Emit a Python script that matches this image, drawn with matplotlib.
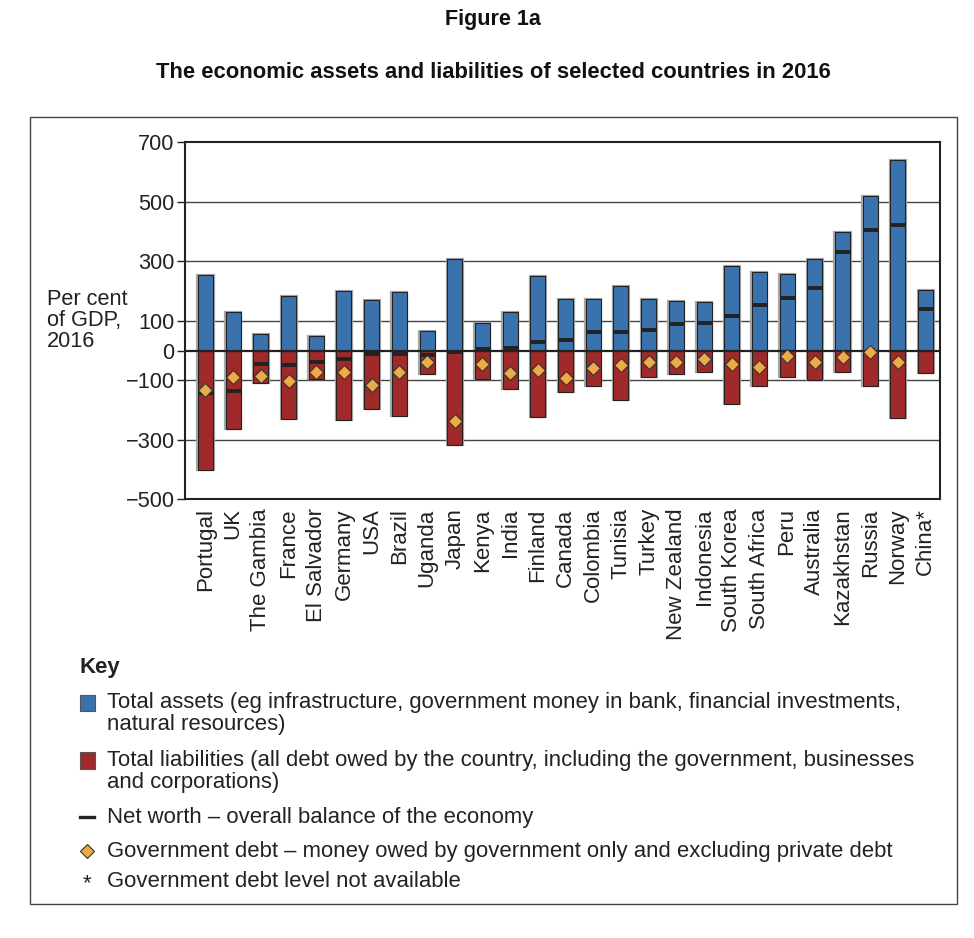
import matplotlib
matplotlib.use("Agg")
import matplotlib.pyplot as plt
from matplotlib import font_manager
from matplotlib.patches import Rectangle
from matplotlib.lines import Line2D

# data (per cent of GDP, 2016)
countries = ["Portugal", "UK", "The Gambia", "France", "El Salvador", "Germany",
             "USA", "Brazil", "Uganda", "Japan", "Kenya", "India", "Finland",
             "Canada", "Colombia", "Tunisia", "Turkey", "New Zealand", "Indonesia",
             "South Korea", "South Africa", "Peru", "Australia", "Kazakhstan",
             "Russia", "Norway", "China*"]
assets = [255, 131, 55, 182, 49, 200, 170, 197, 67, 308, 92, 130, 249,
          173, 173, 217, 173, 167, 163, 284, 264, 257, 309, 397, 520, 642, 203]
liabilities = [-402, -263, -110, -229, -94, -234, -196, -219, -80, -318, -94, -130, -224,
               -140, -120, -165, -89, -80, -73, -178, -119, -88, -100, -71, -119, -227, -76]
net_worth = [-142, -135, -46, -48, -37, -27, -12, -13, -16, -6, 6, 8, 28,
             34, 62, 62, 70, 90, 94, 115, 154, 175, 210, 331, 404, 421, 140]
gov_debt = [-133, -90, -85, -101, -73, -73, -115, -72, -38, -237, -46, -75, -65,
            -91, -57, -49, -38, -39, -29, -45, -54, -20, -38, -22, -6, -40, None]
yticks = [700, 500, 300, 100, 0, -100, -300, -500]

BLUE = "#3a72ad"
RED = "#a02a2a"
GOLD = "#eeaa48"
DARK = "#222222"


def pick_font(names):
    for n in names:
        try:
            font_manager.findfont(n, fallback_to_default=False)
            return n
        except Exception:
            pass
    return "DejaVu Sans"


body_font = pick_font(["Liberation Sans", "Arial", "DejaVu Sans"])
plt.rcParams["font.family"] = body_font

W, H = 974, 938
fig = plt.figure(figsize=(W / 100, H / 100), dpi=100)


def fx(x):
    return x / W


def fy(y):
    return 1 - y / H


# titles
fig.text(fx(493), fy(20), "Figure 1a", ha="center", va="center",
         fontsize=15.5, fontweight="bold", color="#111111")
fig.text(fx(493), fy(73), "The economic assets and liabilities of selected countries in 2016",
         ha="center", va="center", fontsize=15.8, fontweight="bold", color="#111111")

# outer frame
fig.patches.append(Rectangle((fx(30), fy(904)), fx(957) - fx(30), fy(117) - fy(904),
                             transform=fig.transFigure, fill=False,
                             edgecolor="#444444", linewidth=1.0))

ax = fig.add_axes([fx(185), fy(499.3), fx(940) - fx(185), fy(142.3) - fy(499.3)])
x = list(range(len(countries)))
bw = 0.54

# grid behind bars
for t in yticks[1:-1]:
    if t != 0:
        ax.axhline(t, color="#444444", linewidth=1.0, zorder=0)

# shadow then bars
ax.bar(x, assets, width=bw + 0.04, color="none", edgecolor="#a8a8a8", linewidth=1.6, zorder=1)
ax.bar(x, liabilities, width=bw + 0.04, color="none", edgecolor="#a8a8a8", linewidth=1.6, zorder=1)
ax.bar(x, assets, width=bw, color=BLUE, edgecolor=DARK, linewidth=0.8, zorder=2)
ax.bar(x, liabilities, width=bw, color=RED, edgecolor=DARK, linewidth=0.8, zorder=2)

ax.axhline(0, color=DARK, linewidth=1.6, zorder=3)

ax.hlines(net_worth, [i - bw / 2 for i in x], [i + bw / 2 for i in x],
          color=DARK, linewidth=2.8, zorder=4)

gx = [i for i, v in zip(x, gov_debt) if v is not None]
gv = [v for v in gov_debt if v is not None]
ax.plot(gx, gv, linestyle="none", marker="D", markersize=7,
        markerfacecolor=GOLD, markeredgecolor="#333333", markeredgewidth=0.8, zorder=5)

ax.set_xlim(-0.74, 26.52)
ax.set_ylim(-500, 700)
ax.set_yticks(yticks)
ax.set_yticklabels([f"{t}".replace("-", "\u2212") for t in yticks])
ax.set_xticks(x)
ax.set_xticklabels(countries, rotation=90, va="top", ha="center")
ax.tick_params(axis="y", direction="out", length=6, width=1.0, pad=1.5,
               labelsize=15.7, colors=DARK)
ax.tick_params(axis="x", length=0, pad=6.5, labelsize=16, colors=DARK)
for s in ax.spines.values():
    s.set_color(DARK)
    s.set_linewidth(1.5)

fig.text(fx(47), fy(320.7), "Per cent\nof GDP,\n2016", ha="left", va="center",
         fontsize=15.7, linespacing=1.0, color=DARK)

# key
ks = 15.9
tx = fx(106.7)
fig.text(fx(79.5), fy(667), "Key", ha="left", va="center", fontsize=ks,
         fontweight="bold", color=DARK)

fig.patches.append(Rectangle((fx(79.5), fy(710.5)), fx(15), 16 / H,
                             transform=fig.transFigure, facecolor=BLUE,
                             edgecolor="#555555", linewidth=0.8))
fig.text(tx, fy(702.5), "Total assets (eg infrastructure, government money in bank, financial investments,",
         ha="left", va="center", fontsize=ks, color=DARK)
fig.text(tx, fy(724.5), "natural resources)", ha="left", va="center", fontsize=ks, color=DARK)

fig.patches.append(Rectangle((fx(79.5), fy(768.5)), fx(15), 17 / H,
                             transform=fig.transFigure, facecolor=RED,
                             edgecolor="#555555", linewidth=0.8))
fig.text(tx, fy(760), "Total liabilities (all debt owed by the country, including the government, businesses",
         ha="left", va="center", fontsize=ks, color=DARK)
fig.text(tx, fy(782), "and corporations)", ha="left", va="center", fontsize=ks, color=DARK)

fig.lines.append(Line2D([fx(80), fx(94)], [fy(817), fy(817)], transform=fig.transFigure,
                        color=DARK, linewidth=2.4))
fig.text(tx, fy(817.5), "Net worth \u2013 overall balance of the economy",
         ha="left", va="center", fontsize=ks, color=DARK)

fig.lines.append(Line2D([fx(86.7)], [fy(851)], transform=fig.transFigure, linestyle="none",
                        marker="D", markersize=7, markerfacecolor=GOLD,
                        markeredgecolor="#333333", markeredgewidth=0.8))
fig.text(tx, fy(851), "Government debt \u2013 money owed by government only and excluding private debt",
         ha="left", va="center", fontsize=ks, color=DARK)

fig.text(fx(86.7), fy(884), "*", ha="center", va="center", fontsize=ks, color=DARK)
fig.text(tx, fy(881.5), "Government debt level not available",
         ha="left", va="center", fontsize=ks, color=DARK)

fig.savefig("out.png", dpi=100)
